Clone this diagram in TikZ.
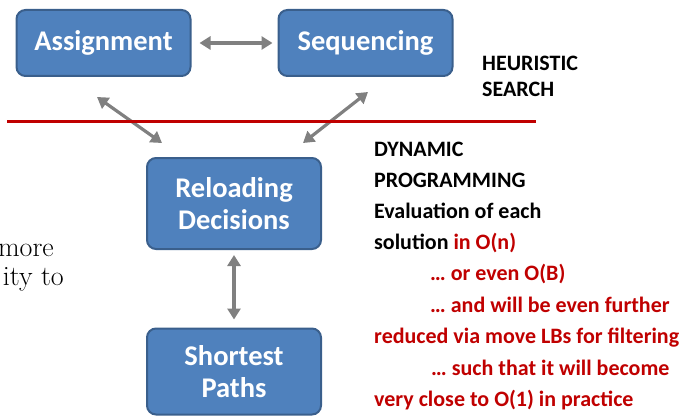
\documentclass[tikz,border=0pt]{standalone}
\usepackage{fontspec}
\setmainfont{Latin Modern Roman}
\newfontfamily\carlitofont{Carlito}
\usetikzlibrary{arrows.meta}
\definecolor{boxfill}{HTML}{4F81BD}
\definecolor{boxline}{HTML}{3A5F8C}
\definecolor{arrgray}{HTML}{808080}
\definecolor{darkred}{HTML}{C00000}
\tikzset{
  x=1pt,y=-1pt,
  blockbox/.style={draw=boxline, line width=2pt, fill=boxfill, rounded corners=9pt,
    text=white, font=\carlitofont\bfseries\fontsize{28.5}{32}\selectfont, align=center,
    inner sep=0pt, minimum width=174pt},
  dbl/.style={draw=arrgray, line width=3.2pt,
    {Triangle[width=13pt,length=11pt]}-{Triangle[width=13pt,length=11pt]}},
  side/.style={anchor=base west, inner sep=0pt, font=\carlitofont\bfseries\fontsize{22}{26}\selectfont},
  serif/.style={anchor=base east, inner sep=0pt, font=\fontsize{28}{32}\selectfont}
}
\begin{document}
\begin{tikzpicture}
\useasboundingbox (0,0) rectangle (687,417);
\begin{scope}
\clip (0,0) rectangle (687,417);
\node[blockbox, minimum height=66pt] (asg) at (103.5,43) {Assignment};
\node[blockbox, minimum height=66pt] (seq) at (365.5,43) {Sequencing};
\node[blockbox, minimum height=91pt] (rel) at (234,203.5) {Reloading\\Decisions};
\node[blockbox, minimum height=86pt] (sp) at (234,371.5) {Shortest\\Paths};

\draw[dbl, shorten <=8pt, shorten >=5pt] (asg.east) -- (seq.west);
\draw[dbl, shorten <=5pt, shorten >=8pt] (rel.south) -- (sp.north);
\coordinate (l1) at (97,97);
\coordinate (l2) at (162,143);
\coordinate (r1) at (368,92);
\coordinate (r2) at (303,143);
\draw[dbl] (l1) -- (l2);
\draw[dbl] (r1) -- (r2);

\coordinate (redA) at (7,121);
\coordinate (redB) at (536,121);
\draw[darkred, line width=3pt] (redA) -- (redB);

\node[serif] (t1) at (54,256) {more};
\node[serif] (t2) at (64,285) {ity to};

\node[side] (h1) at (482,71) {HEURISTIC};
\node[side] (h2) at (482,97) {SEARCH};
\node[side] (d1) at (374,156) {DYNAMIC};
\node[side] (d2) at (374,187) {PROGRAMMING};
\node[side] (d3) at (374,218) {Evaluation of each};
\node[side] (d4) at (374,249) {solution \textcolor{darkred}{in O(n)}};
\node[side, text=darkred] (d5) at (430,280) {… or even O(B)};
\node[side, text=darkred] (d6) at (430,312) {… and will be even further};
\node[side, text=darkred] (d7) at (374,343) {reduced via move LBs for filtering};
\node[side, text=darkred] (d8) at (431,375) {… such that it will become};
\node[side, text=darkred] (d9) at (374,406) {very close to O(1) in practice};
\end{scope}
\end{tikzpicture}
\end{document}
